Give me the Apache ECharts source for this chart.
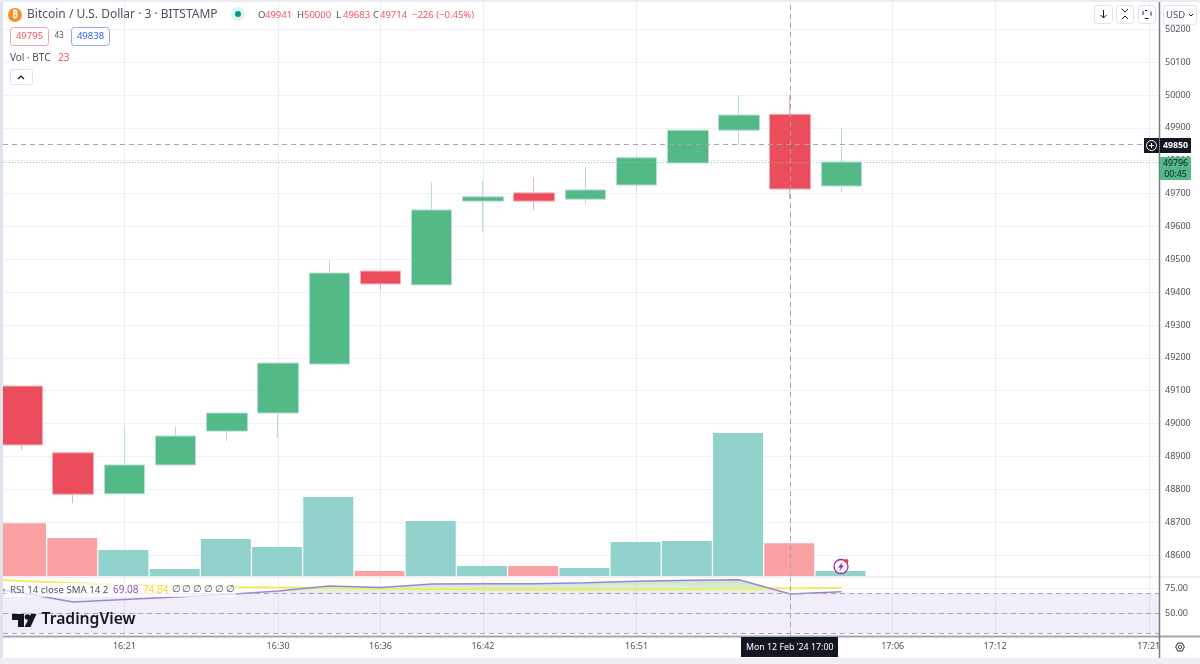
<!DOCTYPE html>
<html lang="en">
<head>
<meta charset="UTF-8">
<title>BTCUSD 3m</title>
<script src="https://cdn.jsdelivr.net/npm/echarts@6/dist/echarts.min.js"></script>
<style>
html, body { margin: 0; padding: 0; background: #fff; }
#chart { width: 1200px; height: 664px; }
</style>
</head>
<body>
<div id="chart"></div>
<script>
var times = ['16:15','16:18','16:21','16:24','16:27','16:30','16:33','16:36','16:39','16:42','16:45','16:48','16:51','16:54','16:57','17:00','17:03'];
var opens  = [49114,48911,48786,48874,48977,49032,49181,49464,49422,49677,49702,49683,49726,49793,49893,49941,49723];
var closes = [48935,48785,48874,48962,49032,49184,49458,49425,49650,49690,49677,49711,49809,49893,49939,49714,49796];
var lows   = [48920,48758,48786,48874,48947,48956,49181,49407,49422,49581,49650,49669,49708,49793,49848,49683,49705];
var highs  = [49114,48911,48990,48990,49035,49186,49498,49464,49733,49738,49750,49781,49817,49893,50000,50000,49900];
var volumes = [37,26.6,18.2,4.9,25.9,20.3,55.3,3.5,38.5,7,7,5.6,23.8,24.5,100.1,23,3.5];

// rsi starts one bar earlier, that bar is off screen on the left
var rsiTimes = ['16:12'].concat(times);
var rsiValues = [78,70,61,63.5,66,68.5,72,77,75.5,79,79.3,79.3,80.3,81.7,82.7,83.3,69.08,71.3];
var smaValues = [84.5,82,80,78,77,76,75.5,75,74.5,74,73.7,73.5,73.5,73.7,74,74.5,74.84,75];

var priceTicks = [48600,48700,48800,48900,49000,49100,49200,49300,49400,49500,49600,49700,49800,49900,50000,50100,50200];
var rsiTicks = [50,75];
var timeTicks = ['16:21','16:30','16:36','16:42','16:51','17:00','17:06','17:12','17:21'];

var crossTime = '17:00', crossPrice = 49850, lastPrice = 49796;

var UP = '#53b987', DOWN = '#eb4d5c', GRID = '#eef2f6', AXIS = '#50535e';
var FONT = '"Noto Sans", sans-serif';

function toMin(t) { var p = t.split(':'); return +p[0] * 60 + +p[1]; }
function toLabel(m) { var h = Math.floor(m / 60), n = m % 60; return h + ':' + (n < 10 ? '0' : '') + n; }

var xMin = 973.887, xMax = 1041.6;
var tickMins = timeTicks.map(toMin);

function xAxisFor(idx, showLabels, lo, hi) {
	return {
		type: 'value', gridIndex: idx, min: lo || xMin, max: hi || xMax,
		axisLine: {show: false},
		axisTick: {show: false, customValues: tickMins},
		axisLabel: showLabels ? {
			customValues: tickMins, color: AXIS, fontSize: 9, fontFamily: FONT, margin: 6,
			hideOverlap: false, showMinLabel: true, showMaxLabel: true,
			formatter: function (v) { return toLabel(v); }
		} : {show: false},
		splitLine: {show: showLabels !== null, lineStyle: {color: '#e9f0f5', width: 1}}
	};
}

var candleData = times.map(function (t, i) { return [toMin(t), opens[i], closes[i], lows[i], highs[i]]; });
var volumeData = times.map(function (t, i) {
	return {value: [toMin(t), volumes[i]], itemStyle: {color: closes[i] >= opens[i] ? '#92d2cc' : '#faa1a4'}};
});
var rsiData = rsiTimes.map(function (t, i) { return [toMin(t), rsiValues[i]]; });
var smaData = rsiTimes.map(function (t, i) { return [toMin(t), smaValues[i]]; });

// overlay shapes and texts
var g = [];
function txt(x, y, s, color, size, opt) {
	opt = opt || {};
	g.push({type: 'text', z: opt.z || 100, style: {
		x: x, y: y, text: s, fill: color,
		font: (opt.weight || 'normal') + ' ' + size + 'px ' + FONT,
		align: opt.align || 'left', verticalAlign: 'middle'
	}});
}
function box(x, y, w, h, fill, stroke, r, z) {
	g.push({type: 'rect', z: z || 99, shape: {x: x, y: y, width: w, height: h, r: r || 0},
		style: {fill: fill, stroke: stroke || null, lineWidth: 1}});
}
function line(x1, y1, x2, y2, color, w, z) {
	g.push({type: 'line', z: z || 100, shape: {x1: x1, y1: y1, x2: x2, y2: y2}, style: {stroke: color, lineWidth: w || 1}});
}
function poly(points, color, w) {
	g.push({type: 'polyline', z: 101, shape: {points: points}, style: {stroke: color, fill: null, lineWidth: w || 1}});
}
function circle(cx, cy, r, fill, stroke, w, z) {
	g.push({type: 'circle', z: z || 100, shape: {cx: cx, cy: cy, r: r}, style: {fill: fill, stroke: stroke || null, lineWidth: w || 1}});
}
function shape(points, fill) {
	g.push({type: 'polygon', z: 101, shape: {points: points}, style: {fill: fill}});
}

// page frame
box(0, 0, 3, 664, '#e0e3eb', null, 0, 90);
box(0, 0, 1200, 2, '#e9ecf2', null, 0, 90);
box(0, 658, 1200, 6, '#eef0f5', null, 0, 90);
line(0, 577, 1200, 577, '#e0e3eb', 1, 90);
line(3, 636.5, 1200, 636.5, '#a3a6af', 2, 95);
line(1159.5, 2, 1159.5, 658, '#787b86', 1.5, 95);

// header
circle(15, 15, 7, '#f7931a');
txt(15, 15, '₿', '#fff', 10, {align: 'center', weight: 'bold'});
txt(27, 15, 'Bitcoin / U.S. Dollar · 3 · BITSTAMP', AXIS, 12);
circle(238, 14, 7, '#e0f3ef');
circle(238, 14, 3, '#089981');
var ohlc = [[258,'O','49941'],[297,'H','50000'],[336,'L','49683'],[373,'C','49714']];
ohlc.forEach(function (a) {
	txt(a[0], 15, a[1], AXIS, 9.5);
	txt(a[0] + 7, 15, a[2], '#f7525f', 9.5);
});
txt(412, 15, '−226 (−0.45%)', '#f7525f', 9.5);

box(10.5, 27.5, 38, 18, '#fff', '#f7a0a8', 3);
txt(29.5, 36.5, '49795', '#f7525f', 9.5, {align: 'center'});
txt(59, 36, '43', AXIS, 8, {align: 'center'});
box(71.5, 27.5, 38, 18, '#fff', '#8fa8fb', 3);
txt(90.5, 36.5, '49838', '#2962ff', 9.5, {align: 'center'});

box(9, 50, 64, 15, 'rgba(255,255,255,0.85)');
txt(10, 58, 'Vol · BTC', AXIS, 10);
txt(58, 58, '23', '#f7525f', 10);
box(10.5, 69.5, 22, 15, '#fff', '#e0e3eb', 2);
poly([[18, 79], [21, 76], [24, 79]], '#131722', 1.2);

// buttons top right
box(1094.5, 5.5, 18, 18, '#fff', '#e0e3eb', 3);
poly([[1103.5, 10], [1103.5, 18]], '#131722', 1);
poly([[1100.5, 15], [1103.5, 18], [1106.5, 15]], '#131722', 1);
box(1116.5, 5.5, 17, 18, '#fff', '#e0e3eb', 3);
poly([[1122, 9], [1125, 12], [1128, 9]], '#131722', 1);
poly([[1122, 19], [1125, 16], [1128, 19]], '#131722', 1);
box(1138.5, 5.5, 17, 18, '#fff', '#e0e3eb', 3);
g.push({type: 'rect', z: 101, shape: {x: 1143, y: 10.5, width: 8, height: 8, r: 2},
	style: {fill: null, stroke: '#131722', lineWidth: 1, lineDash: [4, 4], lineDashOffset: 2}});
box(1163.5, 5.5, 33, 19, '#fff', '#e0e3eb', 3);
txt(1166, 15, 'USD', AXIS, 9.5);
poly([[1189, 14], [1191, 16], [1193, 14]], '#131722', 1);

// crosshair and last price tags
box(1144, 138, 15, 15, '#131722');
circle(1151.5, 145.5, 5, null, '#fff', 1);
line(1149, 145.5, 1154, 145.5, '#fff', 1, 102);
line(1151.5, 143, 1151.5, 148, '#fff', 1, 102);
box(1160, 138, 31, 15, '#131722');
txt(1175.5, 145.5, String(crossPrice), '#fff', 8.8, {align: 'center', weight: 'bold'});
box(1160, 157, 31, 23, UP);
txt(1175.5, 163.5, String(lastPrice), '#131722', 8.8, {align: 'center'});
txt(1175.5, 174, '00:45', '#131722', 8.8, {align: 'center'});
box(741, 637, 97, 20, '#131722');
txt(746, 647, "Mon 12 Feb '24", '#fff', 8.8);
txt(811, 647, crossTime, '#fff', 8.8);

// rsi legend
box(5, 583, 231, 14, 'rgba(255,255,255,0.72)', null, 0, 98);
txt(10, 590, 'RSI 14 close SMA 14 2', AXIS, 9.7);
txt(113, 590, '69.08', '#7e57c2', 10);
txt(143, 590, '74.84', '#fdd835', 10);
[176, 186.5, 197.5, 208, 219, 230].forEach(function (x) { txt(x, 589.5, '∅', AXIS, 10, {align: 'center'}); });

// tradingview mark
shape([[12, 614], [24, 614], [24, 627], [18, 627], [18, 620], [12, 620]], '#131722');
circle(27.5, 617, 2.8, '#131722', null, 1, 101);
shape([[31, 614], [36.5, 614], [30.5, 627], [24.5, 627]], '#131722');
txt(41.5, 620, 'TradingView', '#131722', 15.7, {weight: 600});

// flash badge on the last volume bar
circle(841, 566.5, 7, '#fff', '#9c27b0', 1.3, 100);
shape([[842.5, 562], [838, 567.5], [840.7, 567.5], [839.5, 571], [844, 565.5], [841.3, 565.5]], '#9c27b0');
circle(846.5, 561, 2, '#f23645', null, 1, 102);

// settings gear
shape([[1175, 647], [1177.5, 642.5], [1182.5, 642.5], [1185, 647], [1182.5, 651.5], [1177.5, 651.5]], '#50535e');
shape([[1176.3, 647], [1178.2, 643.7], [1181.8, 643.7], [1183.7, 647], [1181.8, 650.3], [1178.2, 650.3]], '#fff');
circle(1180, 647, 1.7, null, '#50535e', 1, 102);

var chart = echarts.init(document.getElementById('chart'), null, {renderer: 'canvas'});
var perPx = (xMax - xMin) / 1156;
chart.setOption({
	animation: false,
	backgroundColor: '#fff',
	grid: [
		{left: 3, right: 41, top: 2, height: 575},   // price
		{left: 2, right: 41, top: 426, height: 150}, // volume, bars sit a pixel to the left of the candles
		{left: 3, right: 41, top: 577, height: 59},  // rsi
		{left: 3, right: 41, top: 577, height: 16}   // rsi above 70, only for the fill
	],
	xAxis: [xAxisFor(0, false), xAxisFor(1, null, xMin, xMax + perPx), xAxisFor(2, true), xAxisFor(3, null)],
	yAxis: [
		{
			type: 'value', gridIndex: 0, position: 'right', min: 48533, max: 50283,
			axisLine: {show: false},
			axisTick: {show: false, customValues: priceTicks},
			axisLabel: {customValues: priceTicks, color: AXIS, fontSize: 9, fontFamily: FONT, margin: 6,
				formatter: function (v) { return String(v); }},
			splitLine: {lineStyle: {color: GRID, width: 1}}
		},
		{type: 'value', gridIndex: 1, min: 0, max: 105, show: false},
		{
			type: 'value', gridIndex: 2, position: 'right', min: 27, max: 86,
			axisLine: {show: false},
			axisTick: {show: false, customValues: rsiTicks},
			axisLabel: {customValues: rsiTicks, color: AXIS, fontSize: 9, fontFamily: FONT, margin: 6,
				formatter: function (v) { return v.toFixed(2); }},
			splitLine: {lineStyle: {color: GRID, width: 1}}
		},
		{type: 'value', gridIndex: 3, min: 70, max: 86, show: false}
	],
	series: [
		{
			type: 'bar', name: 'Vol', xAxisIndex: 1, yAxisIndex: 1, barWidth: 50, z: 1,
			data: volumeData
		},
		{
			type: 'candlestick', name: 'BTCUSD', xAxisIndex: 0, yAxisIndex: 0, barWidth: 41, z: 3,
			data: candleData,
			itemStyle: {color: UP, color0: DOWN, borderColor: '#b7dbd6', borderColor0: '#f5aab2', borderWidth: 1},
			markLine: {
				silent: true, symbol: 'none', animation: false, label: {show: false},
				data: [
					{xAxis: toMin(crossTime), lineStyle: {color: '#a3a6af', type: [5, 4], width: 1}},
					{yAxis: crossPrice, lineStyle: {color: '#a3a6af', type: [5, 4], width: 1}},
					{yAxis: lastPrice, lineStyle: {color: '#7fcba8', type: [1, 2], width: 1}}
				]
			}
		},
		{
			type: 'line', name: 'RSI fill', xAxisIndex: 3, yAxisIndex: 3, showSymbol: false, z: 2,
			data: rsiData, lineStyle: {opacity: 0},
			areaStyle: {origin: 'start', opacity: 1, color: new echarts.graphic.LinearGradient(0, 0, 0, 1, [
				{offset: 0, color: 'rgba(76,175,80,0.32)'},
				{offset: 1, color: 'rgba(76,175,80,0.02)'}
			])}
		},
		{
			type: 'line', name: 'RSI SMA', xAxisIndex: 2, yAxisIndex: 2, showSymbol: false, z: 3,
			data: smaData, lineStyle: {color: '#f6e964', width: 2}
		},
		{
			type: 'line', name: 'RSI', xAxisIndex: 2, yAxisIndex: 2, showSymbol: false, z: 4,
			data: rsiData, lineStyle: {color: '#9b86d6', width: 1.5},
			markArea: {
				silent: true,
				itemStyle: {color: 'rgba(126,87,194,0.1)'},
				data: [[{yAxis: 30}, {yAxis: 70}]]
			},
			markLine: {
				silent: true, symbol: 'none', animation: false, label: {show: false},
				lineStyle: {color: '#a3a6af', type: [5, 4], width: 1},
				data: [{yAxis: 70}, {yAxis: 50}, {yAxis: 30}, {xAxis: toMin(crossTime)}]
			}
		}
	],
	graphic: {elements: g}
});
</script>
</body>
</html>
